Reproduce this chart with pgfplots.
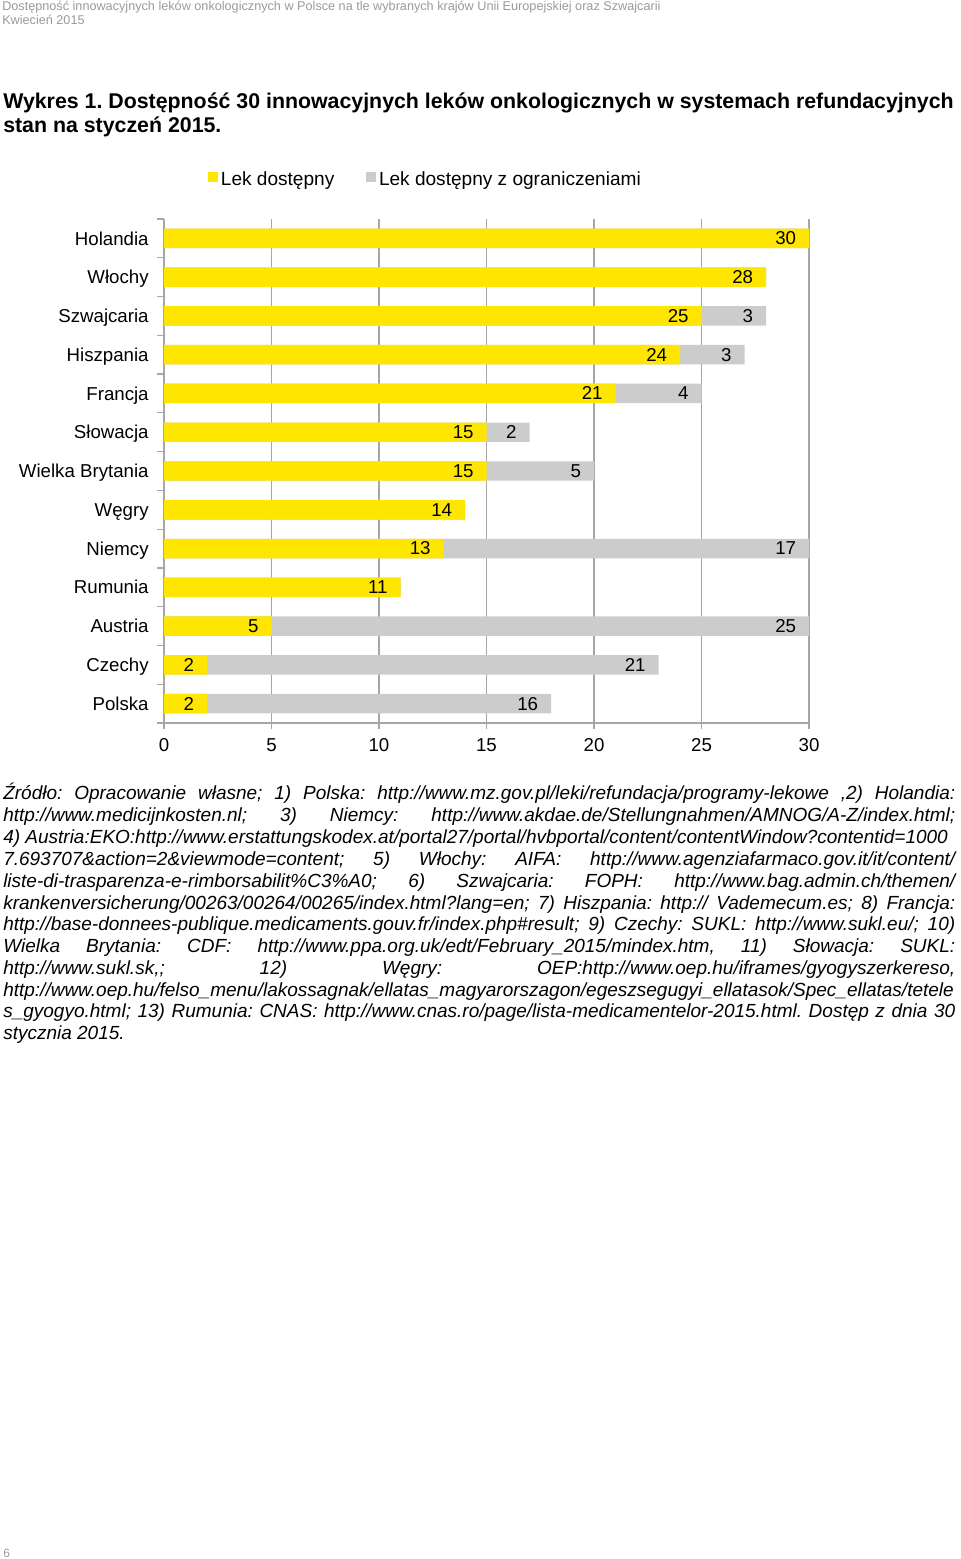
\documentclass[border=0pt]{standalone}
\usepackage{fontspec}
\setmainfont{Liberation Sans}
\usepackage{pgfplots}
\pgfplotsset{compat=1.18}
\usepackage{pgfplotstable}
\definecolor{yellowc}{HTML}{FFE600}
\definecolor{grayc}{HTML}{CCCCCC}
\definecolor{gridc}{HTML}{A6A6A6}
\definecolor{headgray}{HTML}{9A9A9A}

% y: category index (0 = Polska), a: available, t: end of restricted bar, la/lb: labels
\pgfplotstableread{
y a t la lb
0 2 18 2 16
1 2 23 2 21
2 5 30 5 25
3 11 11 11 {}
4 13 30 13 17
5 14 14 14 {}
6 15 20 15 5
7 15 17 15 2
8 21 25 21 4
9 24 27 24 3
10 25 28 25 3
11 28 28 28 {}
12 30 30 30 {}
}\datatable

\newcommand{\jl}[1]{\makebox[714pt][s]{#1}}

\begin{document}
\frenchspacing
\begin{tikzpicture}
\path[use as bounding box] (0,0) rectangle (720pt,-1169.25pt);
\begin{scope}[x=0.75pt,y=-0.75pt]
\node[anchor=base west, font=\fontsize{9.5}{11}\selectfont, text=headgray, inner sep=0] at (2,11) {Dostępność innowacyjnych leków onkologicznych w Polsce na tle wybranych krajów Unii Europejskiej oraz Szwajcarii};
\node[anchor=base west, font=\fontsize{9.5}{11}\selectfont, text=headgray, inner sep=0] at (2,25) {Kwiecień 2015};
\node[anchor=base west, font=\bfseries\fontsize{16}{18}\selectfont, inner sep=0] at (3,108.5) {Wykres 1. Dostępność 30 innowacyjnych leków onkologicznych w systemach refundacyjnych};
\node[anchor=base west, font=\bfseries\fontsize{16}{18}\selectfont, inner sep=0] at (3,132.5) {stan na styczeń 2015.};
\begin{scope}[every node/.style={anchor=base west, font=\itshape\fontsize{14.25}{16}\selectfont, inner sep=0}]
\node at (3,799.5) {\jl{Źródło: Opracowanie własne; 1) Polska: http://www.mz.gov.pl/leki/refundacja/programy-lekowe ,2) Holandia:}};
\node at (3,821.5) {\jl{http://www.medicijnkosten.nl; 3) Niemcy: http://www.akdae.de/Stellungnahmen/AMNOG/A-Z/index.html;}};
\node at (3,843.5) {4) Austria:EKO:http://www.erstattungskodex.at/portal27/portal/hvbportal/content/contentWindow?contentid=1000};
\node at (3,865.5) {\jl{7.693707\&action=2\&viewmode=content; 5) Włochy: AIFA: http://www.agenziafarmaco.gov.it/it/content/}};
\node at (3,887.5) {\jl{liste-di-trasparenza-e-rimborsabilit\%C3\%A0; 6) Szwajcaria: FOPH: http://www.bag.admin.ch/themen/}};
\node at (3,909.5) {\jl{krankenversicherung/00263/00264/00265/index.html?lang=en; 7) Hiszpania: http:// Vademecum.es; 8) Francja:}};
\node at (3,930.5) {\jl{http://base-donnees-publique.medicaments.gouv.fr/index.php\#result; 9) Czechy: SUKL: http://www.sukl.eu/; 10)}};
\node at (3,952.5) {\jl{Wielka Brytania: CDF: http://www.ppa.org.uk/edt/February\_2015/mindex.htm, 11) Słowacja: SUKL:}};
\node at (3,974.5) {\jl{http://www.sukl.sk,; 12) Węgry: OEP:http://www.oep.hu/iframes/gyogyszerkereso,}};
\node at (3,996.5) {http://www.oep.hu/felso\_menu/lakossagnak/ellatas\_magyarorszagon/egeszsegugyi\_ellatasok/Spec\_ellatas/tetele};
\node at (3,1017.5) {\jl{s\_gyogyo.html; 13) Rumunia: CNAS: http://www.cnas.ro/page/lista-medicamentelor-2015.html. Dostęp z dnia 30}};
\node at (3,1039.5) {stycznia 2015.};
\end{scope}
\node[anchor=base west, font=\fontsize{9}{11}\selectfont, text=headgray, inner sep=0] at (3,1557) {6};
\end{scope}
\begin{axis}[
  at={(123pt,-542.25pt)}, anchor=south west,
  width=483.75pt, height=378pt, scale only axis,
  xbar, bar shift=0pt, bar width=14.6pt,
  xmin=0, xmax=30, ymin=-0.5, ymax=12.5,
  xtick={0,5,...,30}, ytick={0,...,12},
  yticklabels={Polska,Czechy,Austria,Rumunia,Niemcy,Węgry,Wielka Brytania,Słowacja,Francja,Hiszpania,Szwajcaria,Włochy,Holandia},
  minor ytick={-0.5,0.5,...,12.5},
  axis x line*=bottom, axis y line*=left,
  axis line style={gridc, line width=0.9pt},
  xmajorgrids, grid style={gridc, line width=0.9pt},
  tick align=outside, major tick length=4.5pt, minor tick length=5pt,
  tick style={gridc, line width=0.9pt},
  major y tick style={draw=none},
  tick label style={font=\fontsize{14}{16.8}\selectfont, black},
  yticklabel style={xshift=-3.5pt, text height=10pt, text depth=0pt},
  xticklabel style={yshift=-3.5pt},
  /pgf/number format/assume math mode=true,
  point meta=explicit symbolic,
  nodes near coords,
  every node near coord/.append style={anchor=east, xshift=-9.5pt, inner sep=0pt, font=\fontsize{14}{16.8}\selectfont, black},
  legend style={draw=none, fill=none, at={(0.406,1.079)}, anchor=center, font=\fontsize{14.3}{17}\selectfont, legend columns=2, /tikz/every even column/.append style={column sep=22pt}, nodes={inner sep=2pt}},
  legend image code/.code={\fill[#1] (0pt,-2.25pt) rectangle (7.5pt,5.25pt);},
]
\addplot[fill=grayc, draw=none, forget plot] table[x=t, y=y, meta=lb] {\datatable};
\addplot[fill=yellowc, draw=none, forget plot] table[x=a, y=y, meta=la] {\datatable};
\addlegendimage{fill=yellowc, draw=none}
\addlegendentry{Lek dostępny}
\addlegendimage{fill=grayc, draw=none}
\addlegendentry{Lek dostępny z ograniczeniami}
\end{axis}
\end{tikzpicture}
\end{document}
